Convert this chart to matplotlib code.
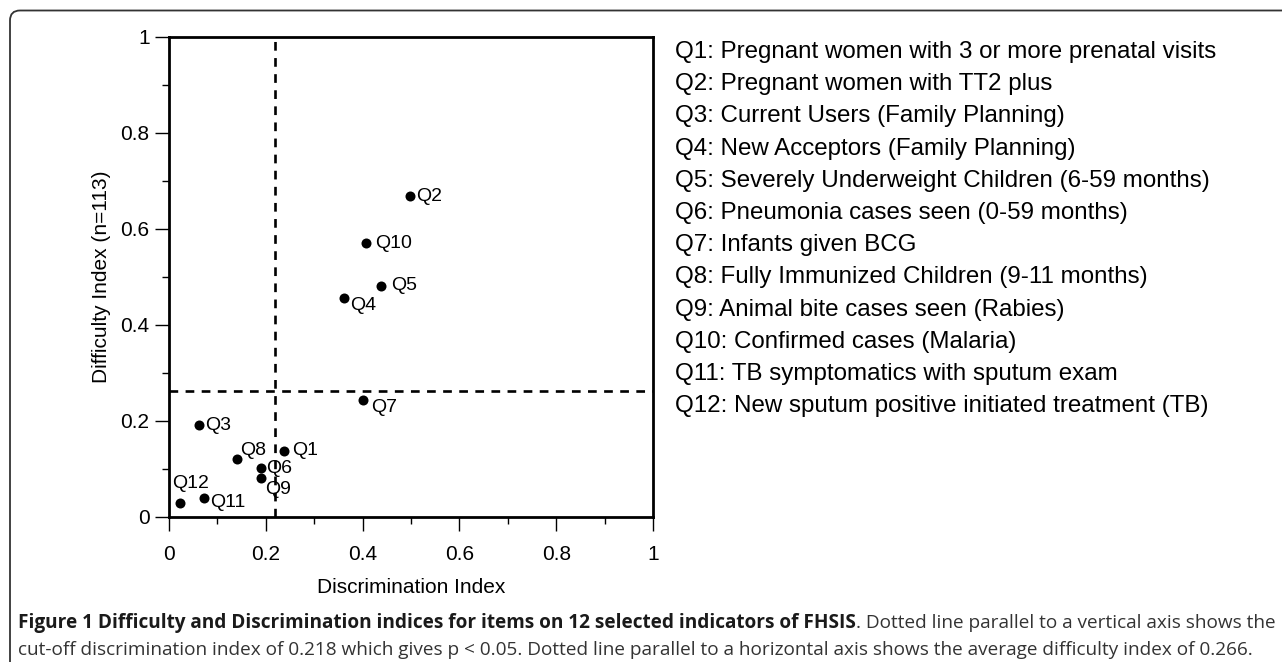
import matplotlib
matplotlib.use("Agg")
import matplotlib.pyplot as plt
from matplotlib.path import Path
from matplotlib.patches import PathPatch
from matplotlib.ticker import MultipleLocator

labels = ["Q1", "Q2", "Q3", "Q4", "Q5", "Q6", "Q7", "Q8", "Q9", "Q10", "Q11", "Q12"]
discrimination = [0.238, 0.497, 0.061, 0.361, 0.437, 0.190, 0.401, 0.141, 0.190, 0.408, 0.073, 0.023]
difficulty = [0.137, 0.668, 0.191, 0.456, 0.482, 0.102, 0.243, 0.121, 0.082, 0.570, 0.039, 0.030]
cutoff_discrimination = 0.218
avg_difficulty = 0.262
tick_values = [0, 0.2, 0.4, 0.6, 0.8, 1]
tick_labels = ["0", "0.2", "0.4", "0.6", "0.8", "1"]
descriptions = [
    "Q1: Pregnant women with 3 or more prenatal visits",
    "Q2: Pregnant women with TT2 plus",
    "Q3: Current Users (Family Planning)",
    "Q4: New Acceptors (Family Planning)",
    "Q5: Severely Underweight Children (6-59 months)",
    "Q6: Pneumonia cases seen (0-59 months)",
    "Q7: Infants given BCG",
    "Q8: Fully Immunized Children (9-11 months)",
    "Q9: Animal bite cases seen (Rabies)",
    "Q10: Confirmed cases (Malaria)",
    "Q11: TB symptomatics with sputum exam",
    "Q12: New sputum positive initiated treatment (TB)",
]
caption_bold = "Figure 1 Difficulty and Discrimination indices for items on 12 selected indicators of FHSIS"
caption_rest = ". Dotted line parallel to a vertical axis shows the"
caption_line2 = ("cut-off discrimination index of 0.218 which gives p < 0.05. Dotted line parallel "
                 "to a horizontal axis shows the average difficulty index of 0.266.")

# label offsets in points (style)
offsets = [(6, 0.7), (5, 0), (5, 0), (4.5, -5), (7.5, 0), (4, 0), (6, -5.5),
           (2, 6), (3, -8.4), (6, 0), (4, -3), (-5.5, 13.7)]

plt.rcParams['font.family'] = ['Liberation Sans', 'DejaVu Sans']
W, H = 1282, 662
fig = plt.figure(figsize=(W / 100, H / 100), dpi=100)

ax = fig.add_axes([169 / W, 1 - 517 / H, (653 - 169) / W, (517 - 37) / H])
ax.set_xlim(0, 1)
ax.set_ylim(0, 1)
ax.scatter(discrimination, difficulty, s=52, color='black', zorder=3, linewidths=0)
for lab, x, y, off in zip(labels, discrimination, difficulty, offsets):
    ax.annotate(lab, (x, y), xytext=off, textcoords='offset points',
                ha='left', va='center', fontsize=14)
ax.axvline(cutoff_discrimination, color='black', lw=1.9, dashes=(3.3, 2.8))
ax.axhline(avg_difficulty, color='black', lw=1.9, dashes=(3.3, 2.8))

ax.xaxis.set_minor_locator(MultipleLocator(0.1))
ax.yaxis.set_minor_locator(MultipleLocator(0.1))
ax.set_xticks(tick_values)
ax.set_xticklabels(tick_labels)
ax.set_yticks(tick_values)
ax.set_yticklabels(tick_labels)
ax.tick_params(which='major', length=10, width=1, labelsize=15, direction='out')
ax.tick_params(axis='x', which='major', pad=10)
ax.tick_params(axis='y', which='major', pad=4)
ax.tick_params(which='minor', length=5, width=1, direction='out')
for sp in ax.spines.values():
    sp.set_linewidth(2)
ax.set_xlabel("Discrimination Index", fontsize=15, labelpad=10)
ax.set_ylabel("Difficulty Index (n=113)", fontsize=15, labelpad=7)

# descriptions list
for i, d in enumerate(descriptions):
    fig.text(675 / W, 1 - (52 + i * 32.2) / H, d, fontsize=17.4, ha='left', va='center')

# rounded frame (left and top only)
x0, y0, r = 10 / W, 1 - 10.5 / H, 10
rx, ry = r / W, r / H
verts = [(x0, 0), (x0, y0 - ry), (x0, y0), (x0 + rx, y0), (1.0, y0)]
codes = [Path.MOVETO, Path.LINETO, Path.CURVE3, Path.CURVE3, Path.LINETO]
fig.add_artist(PathPatch(Path(verts, codes), transform=fig.transFigure,
                         fill=False, edgecolor='#333333', lw=1.3))

# caption, sized so line 1 spans to the right edge
cap_fs = 12.0
renderer = fig.canvas.get_renderer()
b = fig.text(18 / W, 1 - 623 / H, caption_bold, fontsize=cap_fs, fontweight='bold',
             family='Open Sans', ha='left', va='center', color='#1a1a1a')
r1 = fig.text(0, 1 - 623 / H, caption_rest, fontsize=cap_fs, family='Open Sans',
              ha='left', va='center', color='#333333')
wb = b.get_window_extent(renderer).width
wr = r1.get_window_extent(renderer).width
scale = (1273 - 18) / (wb + wr)
cap_fs *= scale
b.set_fontsize(cap_fs)
r1.set_fontsize(cap_fs)
wb = b.get_window_extent(renderer).width
r1.set_x((18 + wb) / W)
fig.text(18 / W, 1 - 650 / H, caption_line2, fontsize=cap_fs, family='Open Sans',
         ha='left', va='center', color='#333333')

fig.savefig("out.png", dpi=100)
